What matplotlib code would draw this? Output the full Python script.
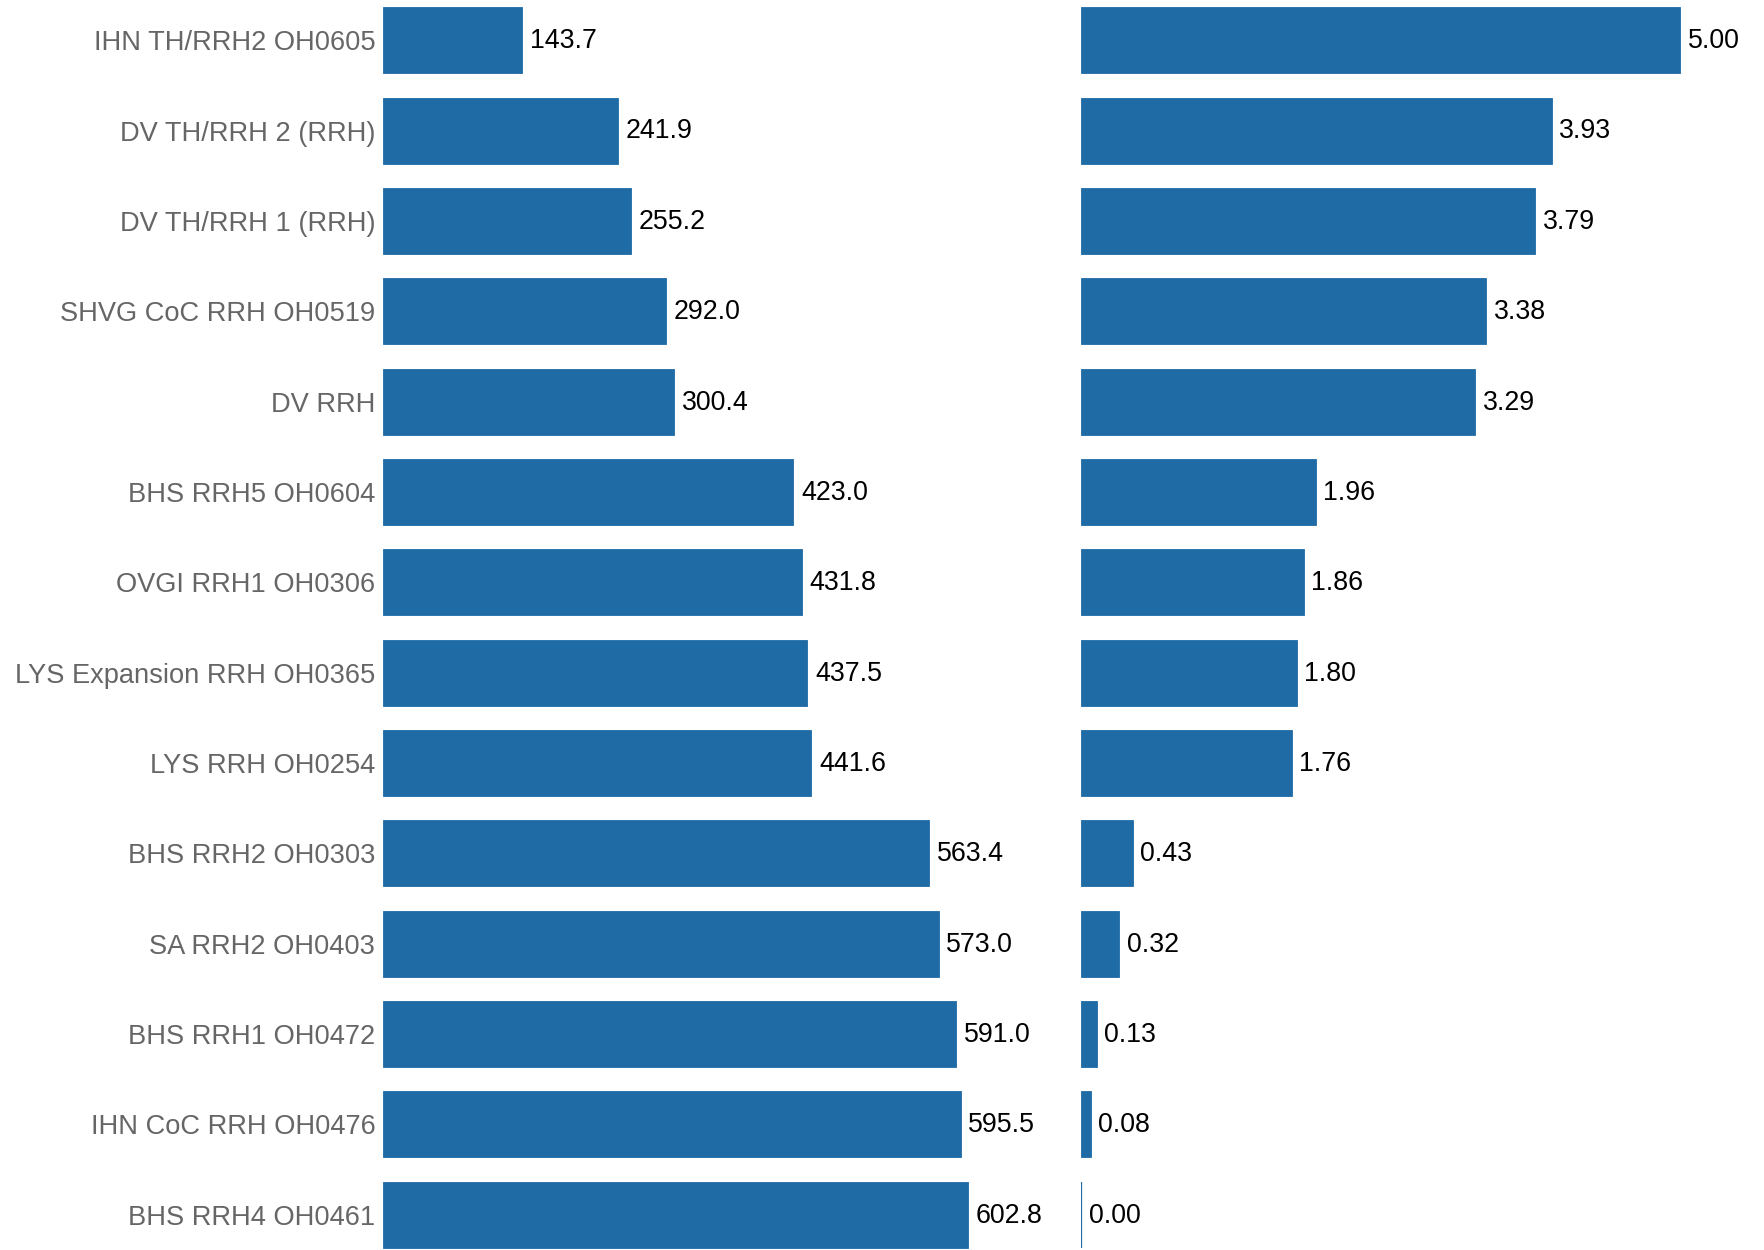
import matplotlib
matplotlib.use("Agg")
import matplotlib.pyplot as plt

categories = ["IHN TH/RRH2 OH0605", "DV TH/RRH 2 (RRH)", "DV TH/RRH 1 (RRH)",
              "SHVG CoC RRH OH0519", "DV RRH", "BHS RRH5 OH0604", "OVGI RRH1 OH0306",
              "LYS Expansion RRH OH0365", "LYS RRH OH0254", "BHS RRH2 OH0303",
              "SA RRH2 OH0403", "BHS RRH1 OH0472", "IHN CoC RRH OH0476", "BHS RRH4 OH0461"]
left_values = [143.7, 241.9, 255.2, 292.0, 300.4, 423.0, 431.8, 437.5, 441.6,
               563.4, 573.0, 591.0, 595.5, 602.8]
right_values = [5.00, 3.93, 3.79, 3.38, 3.29, 1.96, 1.86, 1.80, 1.76,
                0.43, 0.32, 0.13, 0.08, 0.00]

plt.rcParams['font.family'] = ['Liberation Sans', 'DejaVu Sans']
W, H = 1765, 1250
fig = plt.figure(figsize=(W / 100, H / 100), dpi=100)
color = '#1f6ba5'
fs_tick = 19.6
fs_val = 19.3

axL = fig.add_axes([383 / W, 0, (1040 - 383) / W, 1])
axR = fig.add_axes([1081 / W, 0, (W - 1081) / W, 1])

y = list(range(len(categories)))
for ax, vals, xmax, fmt in [(axL, left_values, (1040 - 383) / 0.970, "{:.1f}"),
                            (axR, right_values, (W - 1081) / 119.8, "{:.2f}")]:
    bars = ax.barh(y, vals, height=0.73, color=color, edgecolor=color, linewidth=0.6)
    for b, v in zip(bars, vals):
        if v == 0:
            b.set_linewidth(1.6)
    ax.set_xlim(0, xmax)
    ax.set_ylim(13.39, -0.446)
    for s in ax.spines.values():
        s.set_visible(False)
    ax.set_xticks([])
    for yi, v in zip(y, vals):
        ax.annotate(fmt.format(v), (v, yi), xytext=(5.5, -0.6), textcoords='offset points',
                    va='center', ha='left', fontsize=fs_val, color='black')

axL.set_yticks(y)
axL.set_yticklabels(categories, fontsize=fs_tick, color='#666666')
axL.tick_params(axis='y', length=0, pad=5.5)
axR.set_yticks([])

fig.savefig("out.png", dpi=100)
